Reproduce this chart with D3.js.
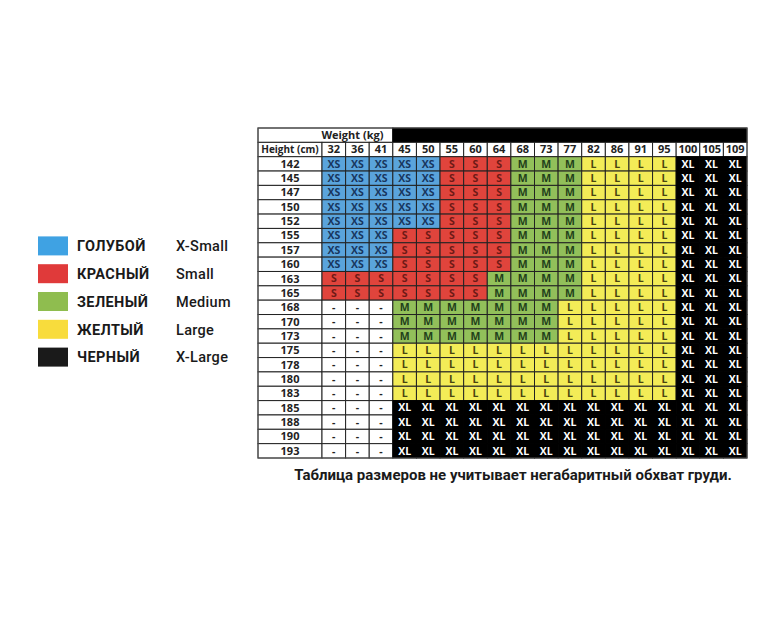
<!DOCTYPE html>
<html lang="ru">
<head>
<meta charset="utf-8">
<title>Таблица размеров</title>
<script src="https://cdn.jsdelivr.net/npm/d3@7"></script>
<style>
  body { margin: 0; background: #fff; }
  .cell-text { font-family: "Open Sans", sans-serif; font-weight: 700; font-size: 10.5px; }
  .lab-text { font-family: "Open Sans", sans-serif; font-weight: 700; font-size: 11px; }
</style>
</head>
<body>
<script>
// columns: weight in kg
var weights = ["32", "36", "41", "45", "50", "55", "60", "64", "68", "73", "77", "82", "86", "91", "95", "100", "105", "109"];
// rows: height in cm
var heights = ["142", "145", "147", "150", "152", "155", "157", "160", "163", "165", "168", "170", "173", "175", "178", "180", "183", "185", "188", "190", "193"];
// size per row, one entry per weight column
var sizeRows = [
  "XS XS XS XS XS S S S M M M L L L L XL XL XL",
  "XS XS XS XS XS S S S M M M L L L L XL XL XL",
  "XS XS XS XS XS S S S M M M L L L L XL XL XL",
  "XS XS XS XS XS S S S M M M L L L L XL XL XL",
  "XS XS XS XS XS S S S M M M L L L L XL XL XL",
  "XS XS XS S S S S S M M M L L L L XL XL XL",
  "XS XS XS S S S S S M M M L L L L XL XL XL",
  "XS XS XS S S S S S M M M L L L L XL XL XL",
  "S S S S S S S M M M M L L L L XL XL XL",
  "S S S S S S S M M M M L L L L XL XL XL",
  "- - - M M M M M M M L L L L L XL XL XL",
  "- - - M M M M M M M L L L L L XL XL XL",
  "- - - M M M M M M M L L L L L XL XL XL",
  "- - - L L L L L L L L L L L L XL XL XL",
  "- - - L L L L L L L L L L L L XL XL XL",
  "- - - L L L L L L L L L L L L XL XL XL",
  "- - - L L L L L L L L L L L L XL XL XL",
  "- - - XL XL XL XL XL XL XL XL XL XL XL XL XL XL XL",
  "- - - XL XL XL XL XL XL XL XL XL XL XL XL XL XL XL",
  "- - - XL XL XL XL XL XL XL XL XL XL XL XL XL XL XL",
  "- - - XL XL XL XL XL XL XL XL XL XL XL XL XL XL XL"
];
// legend
var legendKeys = ["XS", "S", "M", "L", "XL"];
var legendRu = ["ГОЛУБОЙ", "КРАСНЫЙ", "ЗЕЛЕНЫЙ", "ЖЕЛТЫЙ", "ЧЕРНЫЙ"];
var legendEn = ["X-Small", "Small", "Medium", "Large", "X-Large"];
var footnote = "Таблица размеров не учитывает негабаритный обхват груди.";

var cellFill = { "XS": "#5aa4dc", "S": "#e0443c", "M": "#92c05a", "L": "#f3ec57", "XL": "#000000", "-": "#ffffff" };
var cellInk = { "XS": "#18365e", "S": "#6e1a16", "M": "#22401a", "L": "#4a4510", "XL": "#ffffff", "-": "#222222" };
var swatch = { "XS": "#3fa2e3", "S": "#e03a3a", "M": "#8fbd4f", "L": "#f8dc3c", "XL": "#1a1a1a" };

var cells = [];
sizeRows.forEach(function(row, i) {
  row.split(" ").forEach(function(s, j) {
    cells.push({ h: heights[i], w: weights[j], size: s });
  });
});

var svg = d3.select("body").append("svg")
            .attr("width", 769)
            .attr("height", 623);

var tableLeft = 258, labelRight = 322, tableRight = 747;
var x = d3.scaleBand().domain(weights).range([labelRight, tableRight]);
var y = d3.scaleBand().domain(["weight", "header"].concat(heights)).range([128, 458]);

var table = svg.append("g").classed("table", true);

// weight title row
table.append("rect")
     .attr("x", tableLeft).attr("y", y("weight"))
     .attr("width", x(weights[3]) - tableLeft).attr("height", y.bandwidth())
     .attr("fill", "#fff").attr("stroke", "#222");
table.append("rect")
     .attr("x", x(weights[3])).attr("y", y("weight"))
     .attr("width", tableRight - x(weights[3])).attr("height", y.bandwidth())
     .attr("fill", "#000").attr("stroke", "#000");
table.append("text")
     .classed("lab-text", true)
     .attr("x", (labelRight + x(weights[3])) / 2 - 5).attr("y", y("weight") + y.bandwidth() / 2)
     .attr("dy", "0.35em").attr("text-anchor", "middle").attr("fill", "#222")
     .text("Weight (kg)");

// header row
table.append("rect")
     .attr("x", tableLeft).attr("y", y("header"))
     .attr("width", labelRight - tableLeft).attr("height", y.bandwidth())
     .attr("fill", "#fff").attr("stroke", "#222");
table.append("text")
     .classed("lab-text", true)
     .style("font-size", "10px")
     .attr("x", (tableLeft + labelRight) / 2).attr("y", y("header") + y.bandwidth() / 2)
     .attr("dy", "0.35em").attr("text-anchor", "middle").attr("fill", "#222")
     .text("Height (cm)");

var head = table.selectAll(".head")
                .data(weights)
                .enter().append("g")
                .classed("head", true);
head.append("rect")
    .attr("x", function(d) { return x(d); })
    .attr("y", y("header"))
    .attr("width", x.bandwidth()).attr("height", y.bandwidth())
    .attr("fill", "#fff").attr("stroke", "#222");
head.append("text")
    .classed("lab-text", true)
    .attr("x", function(d) { return x(d) + x.bandwidth() / 2; })
    .attr("y", y("header") + y.bandwidth() / 2)
    .attr("dy", "0.35em").attr("text-anchor", "middle").attr("fill", "#222")
    .text(function(d) { return d; });

// row labels
var rowLab = table.selectAll(".rowlab")
                  .data(heights)
                  .enter().append("g")
                  .classed("rowlab", true);
rowLab.append("rect")
      .attr("x", tableLeft)
      .attr("y", function(d) { return y(d); })
      .attr("width", labelRight - tableLeft).attr("height", y.bandwidth())
      .attr("fill", "#fff").attr("stroke", "#222");
rowLab.append("text")
      .classed("lab-text", true)
      .attr("x", (tableLeft + labelRight) / 2)
      .attr("y", function(d) { return y(d) + y.bandwidth() / 2; })
      .attr("dy", "0.35em").attr("text-anchor", "middle").attr("fill", "#222")
      .text(function(d) { return d; });

// size cells
var cell = table.selectAll(".cell")
                .data(cells)
                .enter().append("g")
                .classed("cell", true);
cell.append("rect")
    .attr("x", function(d) { return x(d.w); })
    .attr("y", function(d) { return y(d.h); })
    .attr("width", x.bandwidth()).attr("height", y.bandwidth())
    .attr("fill", function(d) { return cellFill[d.size]; })
    .attr("stroke", function(d) { return d.size === "XL" ? "#000" : "#222"; });
cell.append("text")
    .classed("cell-text", true)
    .attr("x", function(d) { return x(d.w) + x.bandwidth() / 2; })
    .attr("y", function(d) { return y(d.h) + y.bandwidth() / 2; })
    .attr("dy", "0.35em").attr("text-anchor", "middle")
    .attr("fill", function(d) { return cellInk[d.size]; })
    .text(function(d) { return d.size; });

// outer border
table.append("rect")
     .attr("x", tableLeft).attr("y", y("weight"))
     .attr("width", tableRight - tableLeft).attr("height", y.range()[1] - y("weight"))
     .attr("fill", "none").attr("stroke", "#555");

// legend
var ly = d3.scaleBand().domain(legendKeys).range([232, 371]);
var leg = svg.selectAll(".legend")
             .data(legendKeys)
             .enter().append("g")
             .classed("legend", true)
             .attr("transform", function(d) { return "translate(0," + (ly(d) + ly.bandwidth() / 2) + ")"; });
leg.append("rect")
   .attr("x", 38).attr("y", -9.5)
   .attr("width", 30).attr("height", 19)
   .attr("fill", function(d) { return swatch[d]; });
leg.append("text")
   .attr("x", 77).attr("dy", "0.36em")
   .style("font-family", "Roboto, sans-serif").style("font-weight", 700).style("font-size", "14.5px")
   .style("letter-spacing", "0.4px")
   .attr("fill", "#1a1a1a")
   .text(function(d, i) { return legendRu[i]; });
leg.append("text")
   .attr("x", 176).attr("dy", "0.36em")
   .style("font-family", "Roboto, sans-serif").style("font-weight", 500).style("font-size", "14.5px")
   .style("letter-spacing", "0.3px")
   .attr("fill", "#1a1a1a")
   .text(function(d, i) { return legendEn[i]; });

// footnote
svg.append("text")
   .attr("x", 513).attr("y", 480)
   .attr("text-anchor", "middle")
   .style("font-family", "Roboto, sans-serif").style("font-weight", 700).style("font-size", "15px")
   .attr("fill", "#1a1a1a")
   .text(footnote);
</script>
</body>
</html>
